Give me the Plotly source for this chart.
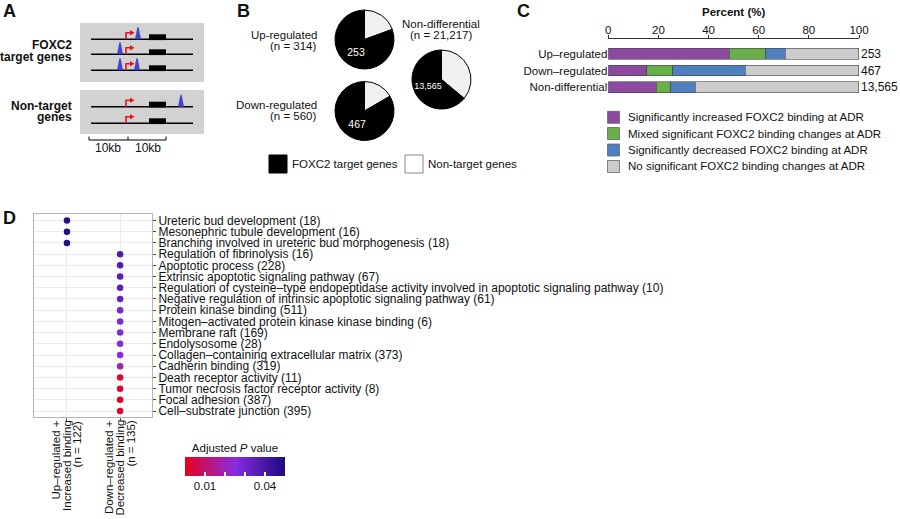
import plotly.graph_objects as go

W, H = 900, 519
FONT = "Liberation Sans, Arial, Helvetica, sans-serif"


def X(px):
    return px / W


def Y(py):
    return 1 - py / H


# ---------------- Panel B data ----------------
pie_groups = ["Up-regulated", "Down-regulated", "Non-differential"]
pie_ns = ["(n = 314)", "(n = 560)", "(n = 21,217)"]
pie_totals = [314, 560, 21217]
pie_targets = [253, 467, 13565]
pie_target_text = ["253", "467", "13,565"]
pie_labels = ["Non-target genes", "FOXC2 target genes"]

# ---------------- Panel C data ----------------
bar_groups = ["Up–regulated", "Down–regulated", "Non-differential"]
bar_counts = ["253", "467", "13,565"]
binding_names = [
    "Significantly increased FOXC2 binding at ADR",
    "Mixed significant FOXC2 binding changes at ADR",
    "Significantly decreased FOXC2 binding at ADR",
    "No significant FOXC2 binding changes at ADR",
]
pct_increased = [48.3, 15.3, 19.1]
pct_mixed = [14.6, 10.4, 5.9]
pct_decreased = [7.6, 29.0, 9.7]
pct_none = [29.5, 45.3, 65.3]
binding_colors = ["#8b4a9e", "#6aae4c", "#4f7fbe", "#cccccc"]

# ---------------- Panel D data ----------------
go_groups = [
    "Up–regulated +<br>Increased binding<br>(n = 122)",
    "Down–regulated +<br>Decreased binding<br>(n = 135)",
]
go_terms = [
    "Ureteric bud development (18)",
    "Mesonephric tubule development (16)",
    "Branching involved in ureteric bud morphogenesis (18)",
    "Regulation of fibrinolysis (16)",
    "Apoptotic process (228)",
    "Extrinsic apoptotic signaling pathway (67)",
    "Regulation of cysteine–type endopeptidase activity involved in apoptotic signaling pathway (10)",
    "Negative regulation of intrinsic apoptotic signaling pathway (61)",
    "Protein kinase binding (511)",
    "Mitogen–activated protein kinase kinase binding (6)",
    "Membrane raft (169)",
    "Endolysosome (28)",
    "Collagen–containing extracellular matrix (373)",
    "Cadherin binding (319)",
    "Death receptor activity (11)",
    "Tumor necrosis factor receptor activity (8)",
    "Focal adhesion (387)",
    "Cell–substrate junction (395)",
]
go_term_group = [0, 0, 0] + [1] * 15
go_padj = [0.048, 0.048, 0.048, 0.038, 0.037, 0.036, 0.035, 0.034, 0.029,
           0.028, 0.027, 0.026, 0.025, 0.019, 0.003, 0.003, 0.002, 0.002]
cbar_ticks = [0.01, 0.02, 0.03, 0.04]
cbar_ticktext = ["0.01", "", "", "0.04"]

fig = go.Figure()
shapes = []
ann = []


def text(x, y, s, size=12, xanchor="center", yanchor="middle", bold=False, **kw):
    if bold:
        s = "<b>" + s + "</b>"
    d = dict(x=X(x), y=Y(y), xref="paper", yref="paper", text=s, showarrow=False,
             xanchor=xanchor, yanchor=yanchor, borderpad=0,
             font=dict(size=size, family=FONT, color="#111"))
    d.update(kw)
    ann.append(d)


def rect(x0, y0, x1, y1, fill, line=None, lw=0):
    shapes.append(dict(type="rect", xref="paper", yref="paper", x0=X(x0), x1=X(x1), y0=Y(y1), y1=Y(y0),
                       fillcolor=fill, line=dict(color=line or fill, width=lw), layer="above"))


def seg(x0, y0, x1, y1, color="black", w=1.5):
    shapes.append(dict(type="line", xref="paper", yref="paper", x0=X(x0), x1=X(x1), y0=Y(y0), y1=Y(y1),
                       line=dict(color=color, width=w), layer="above"))


def path(pts, fill, color=None, w=0):
    p = "M" + " L".join(f"{X(a):.5f},{Y(b):.5f}" for a, b in pts) + " Z"
    shapes.append(dict(type="path", xref="paper", yref="paper", path=p, fillcolor=fill,
                       line=dict(color=color or fill, width=w), layer="above"))


# ---------------- Panel letters ----------------
text(2, 11, "A", size=18, xanchor="left", bold=True)
text(236, 11, "B", size=18, xanchor="left", bold=True)
text(516, 11, "C", size=18, xanchor="left", bold=True)
text(2, 218, "D", size=18, xanchor="left", bold=True)

# ---------------- Panel A schematic ----------------
rect(80, 23, 204, 82, "#d2d2d2")
rect(80, 90, 204, 134, "#d2d2d2")
gene_rows = [39.3, 54.3, 70.3, 106.7, 123.3]
for gy in gene_rows:
    seg(91, gy, 193, gy, w=1.6)
    rect(149, gy - 5, 166, gy + 0.8, "black")
    # TSS arrow
    shapes.append(dict(type="path", xref="paper", yref="paper",
                       path=f"M{X(126):.5f},{Y(gy):.5f} L{X(126):.5f},{Y(gy-6.5):.5f} L{X(130.5):.5f},{Y(gy-6.5):.5f}",
                       line=dict(color="#e8141c", width=1.6), layer="above"))
    path([(130, gy - 9.3), (134.5, gy - 6.5), (130, gy - 3.7)], "#e8141c")
peaks = [(138, 39.3), (120, 54.3), (120, 70.3), (137, 70.3), (181, 106.7)]
for px_, gy in peaks:
    path([(px_ - 3, gy), (px_ - 0.6, gy - 12), (px_ + 0.6, gy - 12), (px_ + 3, gy)], "#4444cc")
seg(89, 140, 166, 140, w=1)
for tx in [89, 128, 166]:
    seg(tx, 136.5, tx, 140, w=1)
text(108, 147.5, "10kb", size=12)
text(148, 147.5, "10kb", size=12)
text(73, 45, "FOXC2", size=12, xanchor="right", bold=True)
text(73, 57, "target genes", size=12, xanchor="right", bold=True)
text(73, 106.5, "Non-target", size=12, xanchor="right", bold=True)
text(73, 117.5, "genes", size=12, xanchor="right", bold=True)

# ---------------- Panel B pies ----------------
pie_centers = [(364.5, 39.5), (364.5, 111), (441.5, 79.5)]
R = 29.5
for i in range(3):
    cx, cy = pie_centers[i]
    fig.add_trace(go.Pie(
        labels=pie_labels,
        values=[pie_totals[i] - pie_targets[i], pie_targets[i]],
        text=["", pie_target_text[i]],
        textinfo="text", textposition="inside", insidetextorientation="horizontal",
        insidetextfont=dict(color="white", size=10.5, family=FONT),
        marker=dict(colors=["#f0f0f0", "#000000"], line=dict(color="black", width=1)),
        sort=False, direction="clockwise", rotation=0,
        domain=dict(x=[X(cx - R), X(cx + R)], y=[Y(cy + R), Y(cy - R)]),
        showlegend=False, hoverinfo="label+value",
    ))
text(318, 35, pie_groups[0], size=11.5, xanchor="right")
text(318, 46, pie_ns[0], size=11.5, xanchor="right")
text(318, 105, pie_groups[1], size=11.5, xanchor="right")
text(318, 116, pie_ns[1], size=11.5, xanchor="right")
text(441, 24.5, pie_groups[2], size=11.5)
text(441, 35.5, pie_ns[2], size=11.5)
# pie legend
rect(269, 155, 287, 173, "black", "black", 1)
text(291, 163.5, pie_labels[1], size=11.5, xanchor="left")
rect(405, 155, 423, 173, "white", "#888", 1)
text(427, 163.5, pie_labels[0], size=11.5, xanchor="left")

# ---------------- Panel C bars ----------------
pct_series = [pct_increased, pct_mixed, pct_decreased, pct_none]
for name, vals, col in zip(binding_names, pct_series, binding_colors):
    fig.add_trace(go.Bar(
        x=vals, y=bar_groups, orientation="h", name=name,
        marker=dict(color=col, line=dict(color="#444", width=0.6)),
        xaxis="x", yaxis="y", showlegend=False,
    ))
for g, c in zip(bar_groups, bar_counts):
    ann.append(dict(x=100, y=g, xref="x", yref="y", text=c, showarrow=False, xanchor="left",
                    xshift=1, borderpad=0, font=dict(size=12, family=FONT, color="#111")))
# legend C
leg_y = [117.3, 133.5, 150, 166.5]
for name, col, ly in zip(binding_names, binding_colors, leg_y):
    rect(607.5, ly - 6, 619.5, ly + 6, col, "#666", 0.8)
    text(627, ly, name, size=11.5, xanchor="left")

# ---------------- Panel D dot plot ----------------
fig.add_trace(go.Scatter(
    x=[go_groups[g] for g in go_term_group], y=go_terms, mode="markers",
    xaxis="x2", yaxis="y2", showlegend=False,
    marker=dict(size=6.5, color=go_padj, cmin=0, cmax=0.05,
                colorscale=[[0, "#e8001c"], [0.5, "#8a2be2"], [1, "#1c0a80"]],
                colorbar=dict(orientation="h", x=X(235), xanchor="center", y=Y(445), yanchor="top",
                              len=100, lenmode="pixels", thickness=19, thicknessmode="pixels",
                              outlinewidth=0, tickvals=cbar_ticks, ticktext=cbar_ticktext,
                              ticks="inside", ticklen=4, tickcolor="white", tickwidth=1.5,
                              tickfont=dict(size=11.5, family=FONT, color="#111"),
                              title=dict(text="Adjusted <i>P</i> value", side="top",
                                         font=dict(size=11.5, family=FONT, color="#111")),
                              xpad=0, ypad=0)),
))
for gi, g in enumerate(go_groups):
    lines = g.split("<br>")
    for j, ln in enumerate(lines):
        ann.append(dict(x=g, y=0, xref="x2", yref="y2 domain", text=ln, showarrow=False,
                        textangle=-90, xanchor="center", yanchor="top", yshift=-2, borderpad=0,
                        xshift=(j - 1) * 10.5 - 0.5, font=dict(size=11.5, family=FONT, color="#111")))

fig.update_layout(
    width=W, height=H, margin=dict(l=0, r=0, t=0, b=0, autoexpand=False),
    paper_bgcolor="white", plot_bgcolor="white",
    barmode="stack", bargap=0.345, showlegend=False,
    font=dict(family=FONT, color="#111"),
    xaxis=dict(domain=[X(608.3), X(859)], range=[0, 100], side="top", anchor="y",
               tickvals=[0, 20, 40, 60, 80, 100], ticks="outside", ticklen=3, tickcolor="#333",
               showline=True, linecolor="#333", linewidth=1, showgrid=False, zeroline=False,
               automargin=False, ticklabelstandoff=-4,
               tickfont=dict(size=11.5, family=FONT, color="#111"),
               title=dict(text="<b>Percent (%)</b>", font=dict(size=11.5, family=FONT, color="#111"), standoff=5)),
    yaxis=dict(domain=[Y(102), Y(39)], anchor="x", type="category", categoryorder="array",
               categoryarray=bar_groups, range=[2.88, -0.88], showgrid=False, ticks="",
               showline=False, zeroline=False, automargin=False,
               tickfont=dict(size=11.5, family=FONT, color="#111")),
    xaxis2=dict(domain=[X(34), X(152)], anchor="y2", type="category", categoryorder="array",
                categoryarray=go_groups, range=[-0.62, 1.6], showgrid=True, gridcolor="#ebebeb",
                ticks="outside", ticklen=3, tickcolor="#555", showticklabels=False,
                showline=True, mirror=True, linecolor="#b5b5b5", zeroline=False, automargin=False),
    yaxis2=dict(domain=[Y(417), Y(214)], anchor="x2", type="category", categoryorder="array",
                categoryarray=go_terms, tickmode="array", tickvals=go_terms,
                range=[17.53, -0.58], side="right", showgrid=True,
                gridcolor="#ebebeb", ticks="outside", ticklen=3, tickcolor="#444",
                showline=True, mirror=True, linecolor="#b5b5b5", zeroline=False, automargin=False,
                tickfont=dict(size=12, family=FONT, color="#111")),
    shapes=shapes, annotations=ann,
)

fig.write_html("out.html", config={"displayModeBar": False},
               post_script="document.body.style.margin='0';document.body.style.padding='0';"
                           "document.body.style.overflow='hidden';")
